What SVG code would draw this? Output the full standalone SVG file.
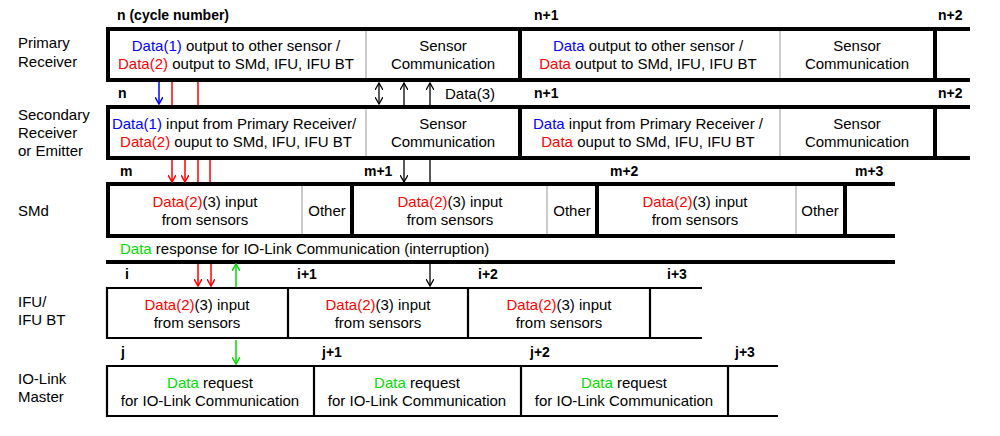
<svg xmlns="http://www.w3.org/2000/svg" width="1000" height="436" viewBox="0 0 1000 436">
<style>
text{font-family:"Liberation Sans",Arial,sans-serif;font-size:15px;fill:#000}
.c{text-anchor:middle}
.b{font-weight:bold;font-size:14px}
.bl{fill:#0000ff}.rd{fill:#ff0000}.gn{fill:#00dd00}
.thick{fill:none;stroke:#000;stroke-width:4}
.thin{fill:none;stroke:#000;stroke-width:2.2}
.gray{stroke:#aaa;stroke-width:1.2}
.k{stroke:#000;stroke-width:1.3}
.r{stroke:#ff0000;stroke-width:1.5}
.bu{stroke:#0000ff;stroke-width:1.5}
.g{stroke:#00dd00;stroke-width:1.5}
</style>
<defs>
<marker id="ak" markerWidth="8" markerHeight="8" refX="7" refY="4" orient="auto-start-reverse" markerUnits="userSpaceOnUse"><path d="M0,0 L7,4 L0,8" fill="none" stroke="#000" stroke-width="1.3"/></marker>
<marker id="ar" markerWidth="8" markerHeight="8" refX="7" refY="4" orient="auto-start-reverse" markerUnits="userSpaceOnUse"><path d="M0,0 L7,4 L0,8" fill="none" stroke="#f00" stroke-width="1.5"/></marker>
<marker id="ab" markerWidth="8" markerHeight="8" refX="7" refY="4" orient="auto-start-reverse" markerUnits="userSpaceOnUse"><path d="M0,0 L7,4 L0,8" fill="none" stroke="#00f" stroke-width="1.5"/></marker>
<marker id="ag" markerWidth="8" markerHeight="8" refX="7" refY="4" orient="auto-start-reverse" markerUnits="userSpaceOnUse"><path d="M0,0 L7,4 L0,8" fill="none" stroke="#0d0" stroke-width="1.5"/></marker>
</defs>
<g id="row-labels">
<text x="18" y="48">Primary</text><text x="18" y="67">Receiver</text>
<text x="18" y="120">Secondary</text><text x="18" y="138">Receiver</text><text x="18" y="156">or Emitter</text>
<text x="18" y="216">SMd</text>
<text x="18" y="307">IFU/</text><text x="18" y="325">IFU BT</text>
<text x="18" y="384">IO-Link</text><text x="18" y="402">Master</text>
</g>
<g id="cycle-labels">
<text x="117" y="20" class="b">n (cycle number)</text><text x="534" y="20" class="b">n+1</text><text x="938" y="20" class="b">n+2</text>
<text x="118" y="98" class="b">n</text><text x="534" y="98" class="b">n+1</text><text x="938" y="98" class="b">n+2</text>
<text x="120" y="176" class="b">m</text><text x="364" y="176" class="b">m+1</text><text x="610" y="176" class="b">m+2</text><text x="855" y="176" class="b">m+3</text>
<text x="125" y="279" class="b">i</text><text x="297" y="279" class="b">i+1</text><text x="478" y="279" class="b">i+2</text><text x="667" y="279" class="b">i+3</text>
<text x="121" y="357" class="b">j</text><text x="322" y="357" class="b">j+1</text><text x="530" y="357" class="b">j+2</text><text x="735" y="357" class="b">j+3</text>
</g>
<g id="primary">
<path class="thick" d="M970,29 H108 V80 H970 M520,29 V80 M935,29 V80"/>
<line class="gray" x1="366" y1="31" x2="366" y2="78"/><line class="gray" x1="780" y1="31" x2="780" y2="78"/>
<text x="236" y="51" class="c"><tspan class="bl">Data(1)</tspan> output to other sensor /</text>
<text x="236" y="69" class="c"><tspan class="rd">Data(2)</tspan> output to SMd, IFU, IFU BT</text>
<text x="443" y="51" class="c">Sensor</text><text x="443" y="69" class="c">Communication</text>
<text x="648" y="51" class="c"><tspan class="bl">Data</tspan> output to other sensor /</text>
<text x="648" y="69" class="c"><tspan class="rd">Data</tspan> output to SMd, IFU, IFU BT</text>
<text x="857" y="51" class="c">Sensor</text><text x="857" y="69" class="c">Communication</text>
</g>
<g id="secondary">
<path class="thick" d="M970,107 H108 V158 H970 M520,107 V158 M935,107 V158"/>
<line class="gray" x1="366" y1="109" x2="366" y2="156"/><line class="gray" x1="780" y1="109" x2="780" y2="156"/>
<text x="234" y="129" class="c"><tspan class="bl">Data(1)</tspan> input from Primary Receiver/</text>
<text x="236" y="147" class="c"><tspan class="rd">Data(2)</tspan> ouput to SMd, IFU, IFU BT</text>
<text x="443" y="129" class="c">Sensor</text><text x="443" y="147" class="c">Communication</text>
<text x="648" y="129" class="c"><tspan class="bl">Data</tspan> input from Primary Receiver /</text>
<text x="648" y="147" class="c"><tspan class="rd">Data</tspan> ouput to SMd, IFU, IFU BT</text>
<text x="857" y="129" class="c">Sensor</text><text x="857" y="147" class="c">Communication</text>
</g>
<g id="smd">
<path class="thick" d="M895,184 H108 V236 H895 M352,184 V236 M597,184 V236 M845,184 V236"/>
<line class="gray" x1="302" y1="186" x2="302" y2="234"/><line class="gray" x1="547" y1="186" x2="547" y2="234"/><line class="gray" x1="796" y1="186" x2="796" y2="234"/>
<text x="205" y="207" class="c"><tspan class="rd">Data(2)</tspan>(3) input</text><text x="205" y="225" class="c">from sensors</text>
<text x="327" y="216" class="c">Other</text>
<text x="450" y="207" class="c"><tspan class="rd">Data(2)</tspan>(3) input</text><text x="450" y="225" class="c">from sensors</text>
<text x="572" y="216" class="c">Other</text>
<text x="695" y="207" class="c"><tspan class="rd">Data(2)</tspan>(3) input</text><text x="695" y="225" class="c">from sensors</text>
<text x="820" y="216" class="c">Other</text>
</g>
<g id="response">
<text x="120" y="254"><tspan class="gn">Data</tspan> response for IO-Link Communication (interruption)</text>
<line class="thick" x1="106" y1="262" x2="895" y2="262"/>
</g>
<g id="ifu">
<path class="thin" d="M702,288 H107 V338 H702 M288,288 V338 M468,288 V338 M650,288 V338"/>
<text x="197" y="310" class="c"><tspan class="rd">Data(2)</tspan>(3) input</text><text x="197" y="328" class="c">from sensors</text>
<text x="378" y="310" class="c"><tspan class="rd">Data(2)</tspan>(3) input</text><text x="378" y="328" class="c">from sensors</text>
<text x="559" y="310" class="c"><tspan class="rd">Data(2)</tspan>(3) input</text><text x="559" y="328" class="c">from sensors</text>
</g>
<g id="iolink">
<path class="thin" d="M778,366 H107 V416 H778 M314,366 V416 M521,366 V416 M728,366 V416"/>
<text x="210" y="388" class="c"><tspan class="gn">Data</tspan> request</text><text x="210" y="406" class="c">for IO-Link Communication</text>
<text x="417" y="388" class="c"><tspan class="gn">Data</tspan> request</text><text x="417" y="406" class="c">for IO-Link Communication</text>
<text x="624" y="388" class="c"><tspan class="gn">Data</tspan> request</text><text x="624" y="406" class="c">for IO-Link Communication</text>
</g>
<g id="connectors">
<line class="bu" x1="159" y1="82" x2="159" y2="104" marker-end="url(#ab)"/>
<line class="r" x1="172" y1="82" x2="172" y2="105"/>
<line class="r" x1="198" y1="82" x2="198" y2="105"/>
<line class="k" x1="379" y1="83" x2="379" y2="104" marker-start="url(#ak)" marker-end="url(#ak)"/>
<line class="k" x1="404" y1="105" x2="404" y2="83" marker-end="url(#ak)"/>
<line class="k" x1="430" y1="105" x2="430" y2="83" marker-end="url(#ak)"/>
<text x="445" y="99">Data(3)</text>
<line class="r" x1="172" y1="160" x2="172" y2="182" marker-end="url(#ar)"/>
<line class="r" x1="185" y1="160" x2="185" y2="182" marker-end="url(#ar)"/>
<line class="r" x1="198" y1="160" x2="198" y2="182"/>
<line class="r" x1="210" y1="160" x2="210" y2="182"/>
<line class="k" x1="404" y1="160" x2="404" y2="182" marker-end="url(#ak)"/>
<line class="k" x1="430" y1="160" x2="430" y2="182"/>
<line class="r" x1="198" y1="264" x2="198" y2="286" marker-end="url(#ar)"/>
<line class="r" x1="211" y1="264" x2="211" y2="286" marker-end="url(#ar)"/>
<line class="g" x1="236" y1="287" x2="236" y2="264" marker-end="url(#ag)"/>
<line class="k" x1="430" y1="264" x2="430" y2="286" marker-end="url(#ak)"/>
<line class="g" x1="236" y1="340" x2="236" y2="364" marker-end="url(#ag)"/>
</g>
</svg>
